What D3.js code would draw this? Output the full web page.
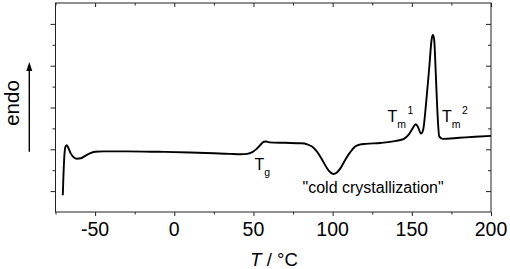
<!DOCTYPE html>
<html>
<head>
<meta charset="utf-8">
<script src="https://cdn.jsdelivr.net/npm/d3@7"></script>
<style>
  body { margin: 0; background: #fff; }
  svg { display: block; font-family: "Liberation Sans", Arial, sans-serif; }
</style>
</head>
<body>
<div id="chart"></div>
<script>
// DSC trace, temperature (°C) vs heat flow (arbitrary units, endo up)
const temps = [-70.4, -70.0, -69.4, -68.6, -67.8, -66.8, -65.5, -63.5, -61.5, -59, -56, -53, -50, -45,
  -30, -10, 10, 25, 35, 42, 46, 49, 52, 54.5, 56.5, 58, 60, 70, 80, 84, 87, 90, 93, 96, 98.5,
  100.5, 102.5, 105, 108, 111, 114, 117, 121, 130, 140, 145, 148, 150.5, 152.5, 154, 155.8, 157.2,
  159, 161, 162.6, 163.3, 164.1, 165.2, 166.3, 167.3, 169.5, 180, 190, 200];
const heatFlow = [0.8, 1.7, 2.7, 3.15, 3.2, 3.05, 2.82, 2.62, 2.55, 2.57, 2.7, 2.82, 2.88, 2.9,
  2.9, 2.88, 2.85, 2.81, 2.78, 2.76, 2.78, 2.85, 3.02, 3.22, 3.36, 3.37, 3.33, 3.31, 3.29, 3.24, 3.13, 2.9, 2.55, 2.15, 1.9,
  1.82, 1.88, 2.1, 2.5, 2.85, 3.12, 3.22, 3.26, 3.3, 3.4, 3.5, 3.7, 4.0, 4.2, 4.05, 3.75, 3.95,
  5.2, 6.9, 8.3, 8.47, 8.25, 6.5, 4.6, 3.62, 3.5, 3.55, 3.6, 3.64];

const xMajor = [-50, 0, 50, 100, 150, 200];
const xMinor = [-75, -25, 25, 75, 125, 175];
const yMajor = [1, 3, 5, 7, 9];
const yMinor = [2, 4, 6, 8];

const width = 510, height = 269;
const margin = {left: 55.5, right: 19, top: 3, bottom: 57};
const innerW = width - margin.left - margin.right;
const innerH = height - margin.top - margin.bottom;

const svg = d3.select("#chart").append("svg").attr("width", width).attr("height", height);
const g = svg.append("g").attr("transform", `translate(${margin.left},${margin.top})`);

const x = d3.scaleLinear().domain([-75, 200]).range([0, innerW]);
const y = d3.scaleLinear().domain([0, 10]).range([innerH, 0]);

function tickAxis(axis, values, size, transform) {
  const a = g.append("g").attr("transform", transform)
    .call(axis.tickValues(values).tickSize(size).tickFormat(""));
  a.select(".domain").remove();
  a.selectAll("line").attr("stroke", "#222").attr("stroke-width", 1);
  return a;
}

// outward ticks bottom & left, inward on top & right
tickAxis(d3.axisBottom(x), xMajor, 4, `translate(0,${innerH})`);
tickAxis(d3.axisBottom(x), xMinor, 2.5, `translate(0,${innerH})`);
tickAxis(d3.axisBottom(x), xMajor, 4, "translate(0,0)");
tickAxis(d3.axisBottom(x), xMinor, 2.5, "translate(0,0)");
tickAxis(d3.axisLeft(y), yMajor, 5, "translate(0,0)");
tickAxis(d3.axisLeft(y), yMinor, 3, "translate(0,0)");
tickAxis(d3.axisLeft(y), yMajor, 5, `translate(${innerW},0)`);
tickAxis(d3.axisLeft(y), yMinor, 3, `translate(${innerW},0)`);

g.append("rect").attr("width", innerW).attr("height", innerH)
  .attr("fill", "none").attr("stroke", "#222").attr("stroke-width", 1);

g.selectAll(".xlab").data(xMajor).enter().append("text")
  .attr("x", d => x(d)).attr("y", innerH + 24)
  .attr("text-anchor", "middle").attr("font-size", 19.5).text(d => d);

const title = svg.append("text").attr("x", 274).attr("y", 265.5)
  .attr("text-anchor", "middle").attr("font-size", 18.5);
title.append("tspan").attr("font-style", "italic").text("T");
title.append("tspan").text(" / °C");

// endo arrow
svg.append("line").attr("x1", 29.3).attr("x2", 29.3).attr("y1", 151.7).attr("y2", 68)
  .attr("stroke", "#000").attr("stroke-width", 1.4);
svg.append("path").attr("d", "M29.3,62 L26.3,71 L32.3,71 Z").attr("fill", "#000");
svg.append("text").attr("transform", "translate(18.5,103) rotate(-90)")
  .attr("text-anchor", "middle").attr("font-size", 20.5).text("endo");

// curve
const pts = temps.map((t, i) => [t, heatFlow[i]]);
const line = d3.line().x(d => x(d[0])).y(d => y(d[1])).curve(d3.curveMonotoneX);
g.append("path").datum(pts).attr("d", line)
  .attr("fill", "none").attr("stroke", "#000").attr("stroke-width", 1.9)
  .attr("stroke-linejoin", "round");

// annotations
function label(px, py, sub, sup) {
  const t = svg.append("text").attr("x", px).attr("y", py).attr("font-size", 16);
  t.append("tspan").text("T");
  t.append("tspan").attr("font-size", 10.5).attr("dy", 6).text(sub);
  if (sup) t.append("tspan").attr("font-size", 10.5).attr("dx", 1.5).attr("dy", -14).text(sup);
}
label(254.5, 169.5, "g");
label(387.5, 121.5, "m", "1");
label(442, 121.5, "m", "2");

svg.append("text").attr("x", 302.5).attr("y", 193).attr("font-size", 16)
  .text("\"cold crystallization\"");
</script>
</body>
</html>
